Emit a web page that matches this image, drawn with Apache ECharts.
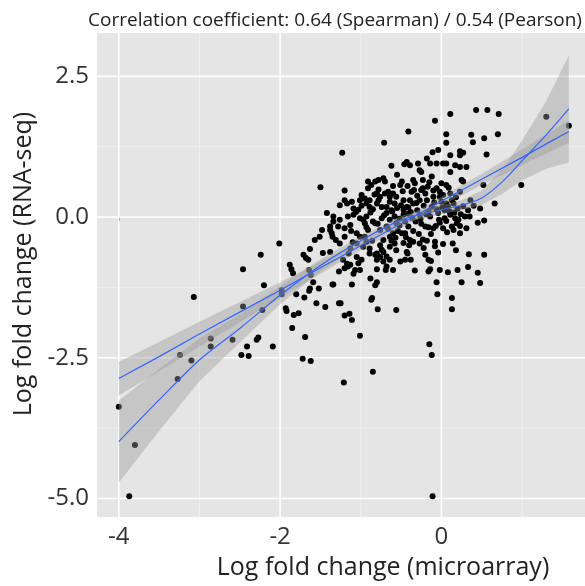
<!DOCTYPE html>
<html>
<head>
<meta charset="utf-8">
<script src="https://cdn.jsdelivr.net/npm/echarts@6/dist/echarts.min.js"></script>
<style>
  html, body { margin: 0; padding: 0; background: #fff; }
  #chart { width: 585px; height: 586px; }
</style>
</head>
<body>
<div id="chart"></div>
<script>
// values
var titleText = 'Correlation coefficient: 0.64 (Spearman) / 0.54 (Pearson)';
var xName = 'Log fold change (microarray)';
var yName = 'Log fold change (RNA-seq)';

var xTicks = [-4, -2, 0];
var xMinor = [-3, -1, 1];
var yTicks = [-5, -2.5, 0, 2.5];
var yMinor = [-3.75, -1.25, 1.25];

var pointX = [
  -2.24, -2.46, -3.07, -2.20, -2.46, -2.22, -2.86, -2.86, -2.59, -3.24, -3.10, -3.27, -4.00, -3.80, -3.87,
  -2.41, -2.48, -2.39, -2.29, -2.27, -2.09, -1.98, -1.98, -1.88, -1.86, -1.84, -1.93, -1.92, -1.83, -1.77,
  -1.85, -1.69, -1.72, -1.62, -1.71, -1.68, -1.64, -1.62, -1.80, -1.70, -1.64, -1.63, -1.59, -1.52, -1.55,
  -1.44, -1.34, -1.47, -1.38, -1.27, -1.27,
  -1.21, -0.85, -1.01, -0.15, -0.12, -0.11, -0.79, -0.56, -0.87, -0.86, -0.88, -0.80, -0.82, -1.11, -1.14,
  -1.20, -1.25, -1.11, -1.35,
  -0.06, -0.05, 0.13, 0.13, 0.25, 0.48, 0.45, 0.33, 0.20, 0.08, -0.02, -0.16, -0.14, -0.16, -0.33,
  -0.60, -0.69, -0.80, -0.51, -0.64, -0.42, -0.38, -0.20, -0.04, 0.34, 0.53, 0.18, -1.20, -1.13, -1.07,
  -1.09, -1.03, -0.99, -0.89, -0.82, -0.76, -0.72, -1.22,
  0.14, 0.23, 0.23, 0.15, 0.45, 0.53, 0.06, -0.02, -0.07, -0.10, -0.16, -0.20, 0.02, 0.13, 0.19,
  0.02, -0.08, -0.08, -0.23, -0.35, -0.27, -0.47, -0.45, -0.41, -0.13,
  -2.01, -1.65, -1.63, -1.57, -1.51, -1.38, -1.36, -1.35, -1.31, -1.26, -1.17, -1.05, -1.15, -1.13, -1.05,
  -0.97, -0.93, -0.89, -1.34, -1.28, -1.20, -1.13, -1.05, -1.01, -0.91, -0.95, -1.16, -1.01, -1.48,
  -0.80, -0.74, -0.68, -0.64, -0.58, -0.56, -0.43, -0.49, -0.60, -0.64, -0.72, -0.76, -0.80, -0.72, -0.68,
  -0.45, -0.56, -0.68, -0.76, -0.82, -0.39,
  -1.23, -0.71, -0.41, -1.50, -1.20, -0.62, -0.46, -0.43, -0.91, -0.82, -0.78, -0.72, -0.70, -0.91, -0.78,
  -0.51, -0.87,
  -0.99, -0.95, -0.80, -0.76, -0.70, -0.66, -0.60, -0.56, -1.26, -1.17, -1.09, -1.01, -0.93, -0.89, -0.80,
  -0.74, -0.68, -0.64, -0.58, -1.42, -1.34, -1.26, -1.16, -1.09, -1.01, -0.93, -0.85, -0.74, -0.68, -0.64,
  -0.58, -1.38, -1.20, -1.11, -0.89, -0.64, -0.47,
  -1.03, -0.85, -0.62, -0.55, -0.47, -0.41, -0.47, -0.52, -0.41, -0.45,
  0.11, 0.43, 0.57, 0.71, -0.08, 0.06, 0.06, 0.37, 0.39, 0.53, 0.70, 1.30, 1.58, 0.56, -0.11,
  -0.04, 0.23, 0.27, 0.23, 0.11, 0.06, -0.06, 0.02, 0.17, 0.23, 0.31, -0.18, -0.14, -0.29, -0.27,
  -0.25, -0.39, 0.11, 0.25, 0.27, -0.12, 0.00, 0.06, -0.06, -0.10, -0.35, -0.33, -0.23, -0.25, -0.23,
  -0.37, -0.49, 0.52, 0.99, 0.66, 0.48, 0.33, 0.29, 0.35, 0.17, 0.23, 0.11, 0.02, -0.02, 0.13,
  0.15, 0.06, 0.00, -0.18, -0.12, -0.10, -0.27, -0.35, -0.39, -0.43, -0.27, -0.14, -0.04, 0.04, 0.11,
  -0.30, -0.22, -0.16, -0.06, 0.04, 0.20, 0.24, -0.32, -0.26, 0.08, -0.20, -0.30, 0.18, 0.36, 0.40,
  -0.42, -0.15, -0.55, -0.60, -0.35, -0.28, -0.22, -0.52, -0.95, -1.10, -1.20,
  -0.97, -0.88, -0.79, -0.71, -0.66, -0.61, -0.54, -0.50, -0.44, -0.38, -0.36, -0.31, -0.25, -0.19, -0.13,
  -0.09, -0.03, 0.01, 0.07, 0.10, 0.16, 0.21, 0.27, 0.31, -0.86, -0.78, -0.57, -0.48, -0.34, -0.17,
  -0.02, 0.09, -1.12, -1.06, -0.99, -0.93, -0.83, -0.62, -0.40, -0.18
];
var pointY = [
  -0.67, -0.93, -1.42, -1.21, -1.59, -1.65, -2.16, -2.30, -2.18, -2.45, -2.55, -2.88, -3.37, -4.05, -4.96,
  -2.30, -2.45, -2.47, -2.18, -2.14, -2.30, -1.30, -1.37, -0.85, -0.93, -1.00, -1.62, -1.67, -1.74, -1.71,
  -1.97, -2.13, -2.52, -2.56, -0.67, -0.73, -0.94, -1.03, -1.37, -1.43, -1.31, -1.27, -1.16, -1.27, -1.53,
  -1.60, -1.20, -0.64, -0.62, -0.97, -1.53,
  -2.94, -2.75, -2.11, -2.26, -2.45, -4.96, -1.64, -1.65, -1.47, -1.44, -1.09, -1.16, -1.21, -1.83, -1.72,
  -1.75, -1.53, -1.20, -1.20,
  -1.16, -1.37, -1.44, -1.64, -1.16, -1.17, -0.99, -0.89, -0.94, -0.98, -0.94, -0.97, -0.93, -0.76, -0.95,
  -0.94, -0.94, -0.93, -0.79, -0.76, -0.65, -0.76, -0.67, -0.63, -0.66, -0.67, -0.59, -0.91, -0.85, -0.94,
  -1.01, -0.82, -0.76, -0.65, -0.67, -0.71, -0.62, -0.76,
  -0.47, -0.29, -0.16, -0.23, -0.10, -0.06, -0.07, -0.10, -0.16, -0.20, -0.18, -0.17, -0.20, -0.17, -0.11,
  -0.48, -0.44, -0.52, -0.40, -0.44, -0.47, -0.46, -0.29, -0.17, -0.78,
  -0.47, -0.76, -0.57, -0.41, -0.35, -0.23, -0.29, -0.35, -0.41, -0.47, -0.83, -0.71, -0.65, -0.56, -0.47,
  -0.53, -0.44, -0.56, -0.08, -0.17, -0.20, -0.14, -0.29, -0.35, -0.23, -0.11, -0.88, -0.94, -0.23,
  -0.65, -0.58, -0.70, -0.53, -0.47, -0.59, -0.62, -0.29, -0.29, -0.35, -0.41, -0.50, -0.76, -0.79, -0.88,
  -0.76, -0.11, -0.17, -0.23, -0.11, -0.41,
  1.14, 1.32, 1.52, 0.53, 0.47, 0.91, 0.94, 0.98, 0.63, 0.63, 0.66, 0.69, 0.63, 0.51, 0.49,
  0.57, 0.57,
  0.39, 0.33, 0.42, 0.36, 0.42, 0.45, 0.42, 0.36, 0.21, 0.24, 0.15, 0.30, 0.24, 0.18, 0.24,
  0.18, 0.18, 0.27, 0.24, 0.07, 0.01, -0.05, 0.01, 0.04, -0.02, 0.01, -0.08, -0.02, 0.07, -0.05,
  0.01, -0.17, 0.30, 0.27, 0.30, 0.36, 0.30,
  0.13, 0.14, 0.12, 0.16, 0.13, 0.17, 0.04, -0.03, 0.06, -0.08,
  1.83, 1.90, 1.90, 1.83, 1.71, 1.47, 1.32, 1.46, 1.33, 1.40, 1.47, 1.78, 1.62, 1.11, 1.15,
  1.19, 1.17, 1.14, 1.10, 1.10, 0.95, 0.95, 0.95, 0.92, 0.89, 0.89, 1.04, 0.95, 0.95, 0.83,
  0.80, 0.92, 0.80, 0.66, 0.63, 0.72, 0.60, 0.57, 0.51, 0.47, 0.66, 0.60, 0.66, 0.48, 0.51,
  0.45, 0.63, 0.57, 0.57, 0.24, 0.15, 0.12, 0.01, 0.01, -0.02, 0.45, 0.42, 0.39, 0.36, 0.30,
  0.24, 0.24, 0.27, 0.30, 0.18, 0.36, 0.30, 0.24, 0.30, 0.18, 0.04, 0.01, 0.07, -0.02, 0.04,
  0.12, 0.20, 0.10, 0.14, 0.12, 0.15, 0.05, -0.08, -0.03, 0.19, 0.42, 0.38, 0.35, 0.30, 0.20,
  0.55, 0.62, 0.75, 0.55, -0.25, -0.30, -0.55, -0.15, -0.35, -0.45, -0.35,
  -0.05, 0.08, -0.12, 0.03, -0.21, 0.10, -0.25, 0.21, -0.36, 0.09, -0.02, 0.25, -0.12, 0.05, -0.30,
  0.26, -0.05, 0.17, -0.27, 0.10, 0.08, -0.05, 0.19, -0.20, -0.42, 0.30, -0.37, 0.46, 0.48, 0.54,
  0.45, 0.52, -0.25, 0.09, 0.20, -0.18, 0.40, -0.42, -0.50, -0.42
];

// linear fit with its confidence band
var linX  = [-4.0, -3.5, -3.0, -2.5, -2.0, -1.5, -1.0, -0.5, 0.0, 0.5, 1.0, 1.3, 1.58];
var linY  = [-2.87, -2.48, -2.08, -1.69, -1.30, -0.90, -0.51, -0.12, 0.28, 0.67, 1.06, 1.30, 1.52];
var linLo = [-3.17, -2.74, -2.30, -1.87, -1.44, -1.01, -0.59, -0.19, 0.20, 0.57, 0.92, 1.13, 1.32];
var linHi = [-2.57, -2.22, -1.86, -1.51, -1.16, -0.79, -0.43, -0.05, 0.36, 0.77, 1.20, 1.47, 1.72];

// loess fit with its confidence band
var loessX  = [-4.0, -3.5, -3.0, -2.5, -2.0, -1.5, -1.0, -0.5, 0.0, 0.25, 0.5, 0.75, 1.0, 1.3, 1.58];
var loessY  = [-3.99, -3.25, -2.54, -1.98, -1.39, -0.86, -0.42, -0.05, 0.13, 0.21, 0.34, 0.62, 1.00, 1.46, 1.92];
var loessLo = [-4.72, -3.80, -2.92, -2.23, -1.55, -0.97, -0.50, -0.12, 0.05, 0.12, 0.22, 0.41, 0.65, 0.86, 0.97];
var loessHi = [-3.26, -2.70, -2.16, -1.73, -1.23, -0.75, -0.34, 0.02, 0.21, 0.30, 0.47, 0.84, 1.36, 2.06, 2.87];

// axis window (panel is cut off at the right edge)
var xMin = -4.27, xMax = 1.78;
var yMin = -5.33, yMax = 3.27;

var FONT = 'Open Sans';
var chart = echarts.init(document.getElementById('chart'));

function pairs(xs, ys) {
  return xs.map(function (x, i) { return [x, ys[i]]; });
}

function bandRenderer(xs, lo, hi) {
  return function (params, api) {
    var pts = [];
    for (var i = 0; i < xs.length; i++) pts.push(api.coord([xs[i], hi[i]]));
    for (var j = xs.length - 1; j >= 0; j--) pts.push(api.coord([xs[j], lo[j]]));
    return {
      type: 'polygon',
      shape: { points: pts },
      style: { fill: 'rgba(153,153,153,0.4)' }
    };
  };
}

function gridRenderer(params, api) {
  var kids = [];
  function vline(v, color, w) {
    var a = api.coord([v, yMin]), b = api.coord([v, yMax]);
    kids.push({ type: 'line', shape: { x1: a[0], y1: a[1], x2: b[0], y2: b[1] }, style: { stroke: color, lineWidth: w } });
  }
  function hline(v, color, w) {
    var a = api.coord([xMin, v]), b = api.coord([xMax, v]);
    kids.push({ type: 'line', shape: { x1: a[0], y1: a[1], x2: b[0], y2: b[1] }, style: { stroke: color, lineWidth: w } });
  }
  xMinor.forEach(function (v) { vline(v, '#F2F2F2', 0.8); });
  yMinor.forEach(function (v) { hline(v, '#F2F2F2', 0.8); });
  xTicks.forEach(function (v) { vline(v, '#FFFFFF', 1.6); });
  yTicks.forEach(function (v) { hline(v, '#FFFFFF', 1.6); });
  return { type: 'group', children: kids };
}

var option = {
  animation: false,
  title: {
    text: titleText,
    left: 330,
    top: 6,
    textAlign: 'center',
    textStyle: { fontFamily: FONT, fontSize: 19, fontWeight: 'normal', color: '#222' }
  },
  grid: {
    left: 97, right: 0, top: 33, bottom: 69,
    show: true, backgroundColor: '#E5E5E5', borderWidth: 0
  },
  xAxis: {
    type: 'value', min: xMin, max: xMax,
    name: xName, nameLocation: 'middle', nameGap: 38,
    nameTextStyle: { fontFamily: FONT, fontSize: 25, color: '#222', padding: [0, 0, 0, 84] },
    axisLine: { show: false },
    axisTick: { show: true, length: 4, customValues: xTicks, lineStyle: { color: '#444' } },
    axisLabel: {
      customValues: xTicks, fontFamily: FONT, fontSize: 24, color: '#333', margin: 8,
      formatter: function (v) { return String(v); }
    },
    splitLine: { show: false }
  },
  yAxis: {
    type: 'value', min: yMin, max: yMax,
    name: yName, nameLocation: 'middle', nameGap: 58,
    nameTextStyle: { fontFamily: FONT, fontSize: 25, color: '#222', padding: [0, 0, 0, 22] },
    axisLine: { show: false },
    axisTick: { show: true, length: 4, customValues: yTicks, lineStyle: { color: '#444' } },
    axisLabel: {
      customValues: yTicks, fontFamily: FONT, fontSize: 24, color: '#333', margin: 8,
      formatter: function (v) { return v.toFixed(1); }
    },
    splitLine: { show: false }
  },
  series: [
    { type: 'custom', silent: true, z: 1, renderItem: gridRenderer, data: [[0, 0]] },
    {
      type: 'scatter', z: 2, symbol: 'circle', symbolSize: 6,
      itemStyle: { color: '#000', opacity: 1 },
      data: pairs(pointX, pointY)
    },
    { type: 'custom', silent: true, z: 3, renderItem: bandRenderer(linX, linLo, linHi), data: [[0, 0]] },
    { type: 'custom', silent: true, z: 3, renderItem: bandRenderer(loessX, loessLo, loessHi), data: [[0, 0]] },
    {
      type: 'line', z: 4, symbol: 'none', silent: true,
      lineStyle: { color: '#3366FF', width: 1.2 },
      data: pairs(linX, linY)
    },
    {
      type: 'line', z: 4, symbol: 'none', silent: true, smooth: 0.3,
      lineStyle: { color: '#3366FF', width: 1.2 },
      data: pairs(loessX, loessY)
    }
  ]
};

chart.setOption(option);
</script>
</body>
</html>
